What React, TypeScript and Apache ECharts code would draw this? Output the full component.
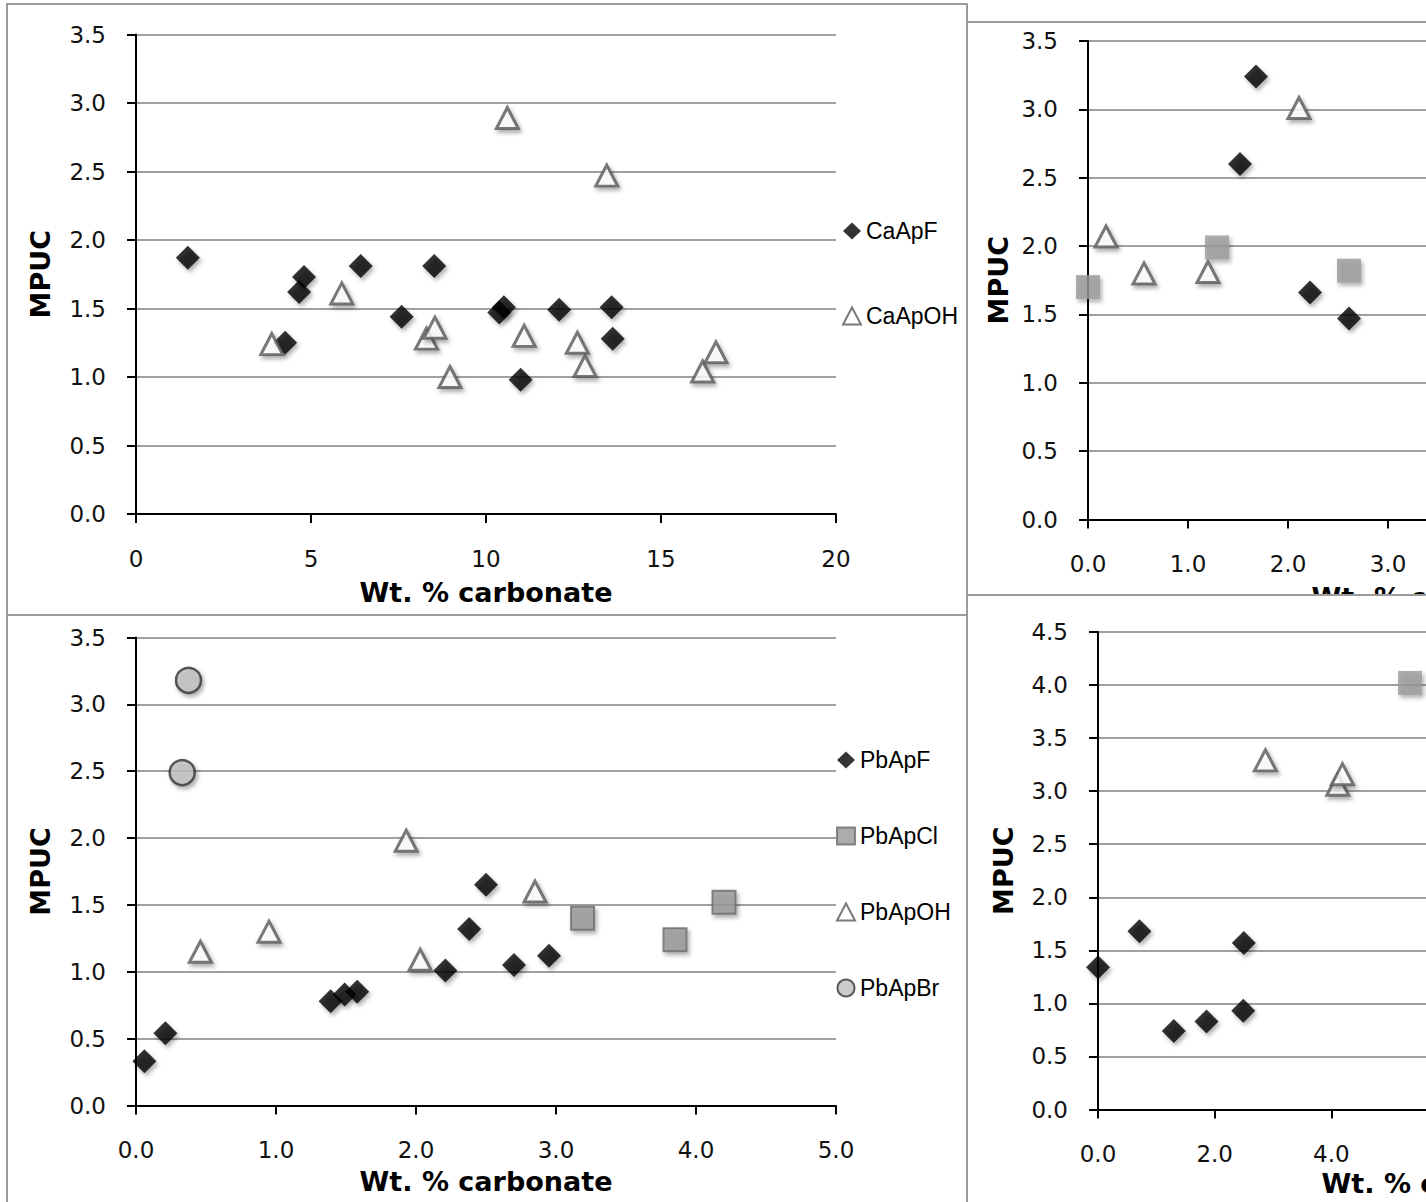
import React, { useEffect, useRef } from "react";
import * as echarts from "echarts";

type Pt = [number, number];

// ---------- Panel A (top-left): Ca apatites ----------
const caApF: Pt[] = [
  [1.48, 1.87], [4.26, 1.25], [4.66, 1.62], [4.8, 1.73], [6.42, 1.81], [7.59, 1.44],
  [8.52, 1.81], [10.38, 1.47], [10.51, 1.51], [10.99, 0.98], [12.09, 1.49], [13.59, 1.51], [13.62, 1.28],
];
const caApOH: Pt[] = [
  [3.88, 1.24], [5.88, 1.61], [8.3, 1.28], [8.54, 1.36], [8.97, 1.0], [10.61, 2.89],
  [11.09, 1.3], [12.61, 1.25], [12.83, 1.08], [13.45, 2.47], [16.19, 1.04], [16.57, 1.18],
];

// ---------- Panel B (top-right, legend cut off) ----------
const panelBF: Pt[] = [[1.52, 2.6], [1.68, 3.24], [2.22, 1.66], [2.61, 1.47]];
const panelBCl: Pt[] = [[0.0, 1.7], [1.29, 1.99], [2.61, 1.82]];
const panelBOH: Pt[] = [[0.18, 2.07], [0.56, 1.8], [1.2, 1.81], [2.11, 3.01]];

// ---------- Panel C (bottom-left): Pb apatites ----------
const pbApF: Pt[] = [
  [0.06, 0.33], [0.21, 0.54], [1.39, 0.78], [1.49, 0.83], [1.58, 0.85],
  [2.21, 1.01], [2.38, 1.32], [2.5, 1.65], [2.7, 1.05], [2.95, 1.12],
];
const pbApCl: Pt[] = [[3.19, 1.4], [3.85, 1.24], [4.2, 1.52]];
const pbApOH: Pt[] = [[0.46, 1.15], [0.95, 1.3], [1.93, 1.98], [2.03, 1.09], [2.85, 1.6]];
const pbApBr: Pt[] = [[0.375, 3.18], [0.33, 2.49]];

// ---------- Panel D (bottom-right, legend cut off) ----------
const panelDF: Pt[] = [[0.0, 1.34], [0.71, 1.68], [1.3, 0.74], [1.86, 0.83], [2.49, 0.93], [2.5, 1.57]];
const panelDOH: Pt[] = [[2.87, 3.29], [4.11, 3.06], [4.19, 3.16]];
const panelDCl: Pt[] = [[5.35, 4.02]];

const xTitle = "Wt. % carbonate";
const yTitle = "MPUC";

const TICK_FONT = "'DejaVu Sans', Verdana, sans-serif";
const LEGEND_FONT = "'Liberation Sans', Arial, sans-serif";
const BORDER = 2;

const shadow = {
  shadowBlur: 4,
  shadowOffsetX: 2,
  shadowOffsetY: 3,
  shadowColor: "rgba(0,0,0,0.38)",
};

const markers: Record<string, any> = {
  diamond: { symbol: "diamond", symbolSize: 24, itemStyle: { color: "#000000", ...shadow } },
  triangle: {
    symbol: "triangle",
    symbolSize: [22, 21],
    itemStyle: { color: "#ffffff", borderColor: "#595959", borderWidth: 3, ...shadow },
  },
  squarePlain: { symbol: "rect", symbolSize: 24, itemStyle: { color: "#999999", ...shadow } },
  squareOutlined: {
    symbol: "rect",
    symbolSize: 23,
    itemStyle: { color: "#979797", borderColor: "#6b6b6b", borderWidth: 2, ...shadow },
  },
  circle: {
    symbol: "circle",
    symbolSize: 25,
    itemStyle: { color: "#bfbfbf", borderColor: "#333333", borderWidth: 2.5, ...shadow },
  },
};

interface SeriesSpec {
  name: string;
  data: Pt[];
  marker: string;
}

interface PanelSpec {
  box: { left: number; top: number; width: number; height: number };
  plot: { x0: number; x1: number; yTop: number; yBottom: number };
  xMax: number;
  xInterval: number;
  xDigits: number;
  yMax: number;
  xNameGap: number;
  yNameGap: number;
  series: SeriesSpec[];
  legend?: { left: number; top: number; itemGap: number };
}

const panels: PanelSpec[] = [
  {
    box: { left: 6, top: 3, width: 962, height: 613 },
    plot: { x0: 136, x1: 836, yTop: 34.5, yBottom: 514 },
    xMax: 20,
    xInterval: 5,
    xDigits: 0,
    yMax: 3.5,
    xNameGap: 65,
    yNameGap: 82,
    series: [
      { name: "CaApF", data: caApF, marker: "diamond" },
      { name: "CaApOH", data: caApOH, marker: "triangle" },
    ],
    legend: { left: 842, top: 218, itemGap: 59 },
  },
  {
    box: { left: 966, top: 21, width: 800, height: 575 },
    plot: { x0: 1088, x1: 1788, yTop: 41, yBottom: 519.5 },
    xMax: 7,
    xInterval: 1,
    xDigits: 1,
    yMax: 3.5,
    xNameGap: 64,
    yNameGap: 76,
    series: [
      { name: "B-F", data: panelBF, marker: "diamond" },
      { name: "B-Cl", data: panelBCl, marker: "squarePlain" },
      { name: "B-OH", data: panelBOH, marker: "triangle" },
    ],
  },
  {
    box: { left: 6, top: 614, width: 962, height: 600 },
    plot: { x0: 136, x1: 836, yTop: 637.5, yBottom: 1105.5 },
    xMax: 5,
    xInterval: 1,
    xDigits: 1,
    yMax: 3.5,
    xNameGap: 62,
    yNameGap: 82,
    series: [
      { name: "PbApF", data: pbApF, marker: "diamond" },
      { name: "PbApCl", data: pbApCl, marker: "squareOutlined" },
      { name: "PbApOH", data: pbApOH, marker: "triangle" },
      { name: "PbApBr", data: pbApBr, marker: "circle" },
    ],
    legend: { left: 836, top: 747, itemGap: 50 },
  },
  {
    box: { left: 966, top: 594, width: 800, height: 620 },
    plot: { x0: 1098, x1: 1798, yTop: 632, yBottom: 1109.5 },
    xMax: 12,
    xInterval: 2,
    xDigits: 1,
    yMax: 4.5,
    xNameGap: 60,
    yNameGap: 81,
    series: [
      { name: "D-F", data: panelDF, marker: "diamond" },
      { name: "D-Cl", data: panelDCl, marker: "squarePlain" },
      { name: "D-OH", data: panelDOH, marker: "triangle" },
    ],
  },
];

function buildOption(p: PanelSpec): any {
  const nameStyle = {
    fontFamily: TICK_FONT,
    fontWeight: "bold",
    fontSize: 27,
    color: "#000",
  };
  const labelStyle = {
    fontFamily: TICK_FONT,
    fontSize: 23,
    color: "#111",
  };
  const option: any = {
    animation: false,
    grid: {
      left: p.plot.x0,
      top: p.plot.yTop,
      width: p.plot.x1 - p.plot.x0,
      height: p.plot.yBottom - p.plot.yTop,
      containLabel: false,
    },
    xAxis: {
      type: "value",
      min: 0,
      max: p.xMax,
      interval: p.xInterval,
      name: xTitle,
      nameLocation: "middle",
      nameGap: p.xNameGap,
      nameTextStyle: nameStyle,
      axisLine: { show: true, onZero: false, lineStyle: { color: "#000", width: 2 } },
      axisTick: { show: true, inside: false, length: 9, lineStyle: { color: "#000", width: 2 } },
      axisLabel: {
        ...labelStyle,
        margin: 33,
        formatter: (v: number) => v.toFixed(p.xDigits),
      },
      splitLine: { show: false },
    },
    yAxis: {
      type: "value",
      min: 0,
      max: p.yMax,
      interval: 0.5,
      name: yTitle,
      nameLocation: "middle",
      nameGap: p.yNameGap,
      nameRotate: 90,
      nameTextStyle: nameStyle,
      axisLine: { show: true, onZero: false, lineStyle: { color: "#000", width: 2 } },
      axisTick: { show: true, inside: false, length: 9, lineStyle: { color: "#000", width: 2 } },
      axisLabel: {
        ...labelStyle,
        margin: 30,
        formatter: (v: number) => v.toFixed(1),
      },
      splitLine: { show: true, lineStyle: { color: "#a0a0a0", width: 2 } },
    },
    series: p.series.map((s) => ({
      type: "scatter",
      name: s.name,
      data: s.data,
      z: 3,
      ...markers[s.marker],
    })),
  };
  if (p.legend) {
    option.legend = {
      show: true,
      orient: "vertical",
      left: p.legend.left,
      top: p.legend.top,
      itemWidth: 18,
      itemHeight: 17,
      itemGap: p.legend.itemGap,
      selectedMode: false,
      padding: 0,
      textStyle: { fontFamily: LEGEND_FONT, fontSize: 23, color: "#000", lineHeight: 26 },
      data: p.series.map((s) => s.name),
    };
  }
  return option;
}

function Panel({ spec }: { spec: PanelSpec }) {
  const ref = useRef<HTMLDivElement>(null);
  useEffect(() => {
    if (!ref.current) return;
    const chart = echarts.init(ref.current, undefined, { renderer: "svg" });
    chart.setOption(buildOption(spec));
    return () => chart.dispose();
  }, [spec]);
  const { left, top, width, height } = spec.box;
  return (
    <div
      style={{
        position: "absolute",
        left,
        top,
        width,
        height,
        boxSizing: "border-box",
        border: `${BORDER}px solid #9c9c9c`,
        background: "#fff",
        overflow: "hidden",
      }}
    >
      <div
        ref={ref}
        style={{
          position: "absolute",
          left: -(left + BORDER),
          top: -(top + BORDER),
          width: 1900,
          height: 1300,
        }}
      />
    </div>
  );
}

export default function App() {
  return (
    <div
      style={{
        position: "absolute",
        left: 0,
        top: 0,
        width: 1426,
        height: 1202,
        overflow: "hidden",
        background: "#fff",
      }}
    >
      {panels.map((p, i) => (
        <Panel key={i} spec={p} />
      ))}
    </div>
  );
}
